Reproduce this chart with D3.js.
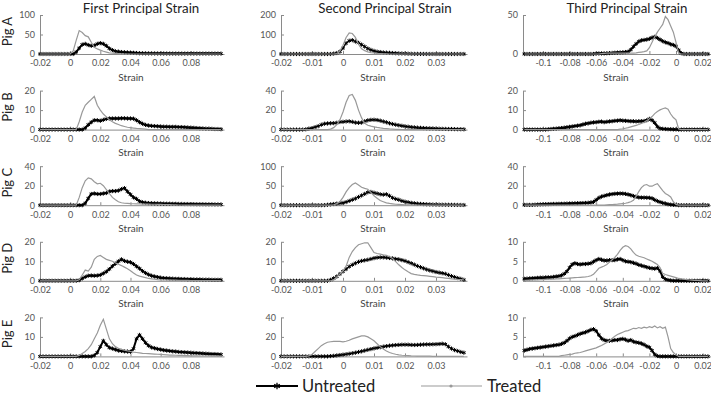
<!DOCTYPE html>
<html><head><meta charset="utf-8">
<script src="https://cdn.jsdelivr.net/npm/d3@7"></script>
<style>
body{margin:0;background:#fff}
svg{display:block;font-family:Lato,"Open Sans",sans-serif}
</style>
</head><body>
<svg id="chart" width="711" height="402"></svg>
<script>
// ---------- labels ----------
const columnTitles = ["First Principal Strain", "Second Principal Strain", "Third Principal Strain"];
const rowLabels = ["Pig A", "Pig B", "Pig C", "Pig D", "Pig E"];
const xAxisLabel = "Strain";
const seriesNames = ["Untreated", "Treated"];

// ---------- strain bins (x values) ----------
const strainCol1 = [-0.02,-0.018,-0.016,-0.014,-0.012,-0.01,-0.008,-0.006,-0.004,-0.002,0,0.002,0.004,0.006,0.008,0.01,0.012,0.014,0.016,0.018,0.02,0.022,0.024,0.026,0.028,0.03,0.032,0.034,0.036,0.038,0.04,0.042,0.044,0.046,0.048,0.05,0.052,0.054,0.056,0.058,0.06,0.062,0.064,0.066,0.068,0.07,0.072,0.074,0.076,0.078,0.08,0.082,0.084,0.086,0.088,0.09,0.092,0.094,0.096,0.098,0.1];
const strainCol2 = [-0.02,-0.019,-0.018,-0.017,-0.016,-0.015,-0.014,-0.013,-0.012,-0.011,-0.01,-0.009,-0.008,-0.007,-0.006,-0.005,-0.004,-0.003,-0.002,-0.001,0,0.001,0.002,0.003,0.004,0.005,0.006,0.007,0.008,0.009,0.01,0.011,0.012,0.013,0.014,0.015,0.016,0.017,0.018,0.019,0.02,0.021,0.022,0.023,0.024,0.025,0.026,0.027,0.028,0.029,0.03,0.031,0.032,0.033,0.034,0.035,0.036,0.037,0.038,0.039];
const strainCol3 = [-0.114,-0.112,-0.11,-0.108,-0.106,-0.104,-0.102,-0.1,-0.098,-0.096,-0.094,-0.092,-0.09,-0.088,-0.086,-0.084,-0.082,-0.08,-0.078,-0.076,-0.074,-0.072,-0.07,-0.068,-0.066,-0.064,-0.062,-0.06,-0.058,-0.056,-0.054,-0.052,-0.05,-0.048,-0.046,-0.044,-0.042,-0.04,-0.038,-0.036,-0.034,-0.032,-0.03,-0.028,-0.026,-0.024,-0.022,-0.02,-0.018,-0.016,-0.014,-0.012,-0.01,-0.008,-0.006,-0.004,-0.002,0,0.002,0.004,0.006,0.008,0.01,0.012,0.014,0.016,0.018,0.02,0.022,0.024];

// ---------- tick labels ----------
const xTicksCol1 = [-0.02, 0, 0.02, 0.04, 0.06, 0.08];
const xTicksCol2 = [-0.02, -0.01, 0, 0.01, 0.02, 0.03];
const xTicksCol3 = [-0.1, -0.08, -0.06, -0.04, -0.02, 0, 0.02];
const yTicksA = [[0,50,100],[0,100,200],[0,50]];
const yTicksB = [[0,10,20],[0,20,40],[0,10,20]];
const yTicksC = [[0,20,40],[0,50,100],[0,20,40]];
const yTicksD = [[0,10,20],[0,10,20],[0,5,10]];
const yTicksE = [[0,10,20],[0,20,40],[0,5,10]];

// ---------- series values (frequency) ----------
// First principal strain
const untreatedA1 = [0,0,0,0,0,0,0,0,0,0,0,0,5,15,24,26,23,21,22,26,28,26,21,14,10,7,6,5,4.5,4,3.5,3,2.5,2,1.8,1.6,1.5,1.5,1.4,1.3,1.2,1.2,1.1,1.1,1,1,1,1,1,1,1,1,1,1,1,1,1,1,1,1,1];
const treatedA1   = [0,0,0,0,0,0,0,0,0,0,0,8,35,60,55,47,44,30,17,13,10,7,5,3,2,1.5,1,0.5,0,0,0,0,0,0,0,0,0,0,0,0,0,0,0,0,0,0,0,0,0,0,0,0,0,0,0,0,0,0,0,0,0];
const untreatedB1 = [0,0,0,0,0,0,0,0,0,0,0,0,0,0,0,0.8,2.5,3.8,4.8,4.8,4.5,5,5.5,5.7,5.7,5.7,5.7,5.8,5.8,5.7,5.7,5.6,4.8,3.8,3,2.4,2.1,1.9,1.8,1.7,1.6,1.5,1.5,1.4,1.4,1.4,1.3,1.3,1.2,1.1,1,0.9,0.8,0.7,0.6,0.5,0.5,0.4,0.3,0.3,0.2];
const treatedB1   = [0,0,0,0,0,0,0,0,0,0,0,0,0,4,9,12.5,14,15.5,17,12.5,10,8,6.5,5,4,3.2,2.6,2,1.6,1.2,1,0.8,0.6,0.5,0.4,0.2,0,0,0,0,0,0,0,0,0,0,0,0,0,0,0,0,0,0,0,0,0,0,0,0,0];
const untreatedC1 = [0,0,0,0,0,0,0,0,0,0,0,0,0,0,0,2,7,11.5,12,11.5,11.5,12,12.5,14,14.5,14.5,15,16.5,17.5,14,11,8,6.5,4,3,2.5,2.2,2,1.9,1.8,1.7,1.6,1.5,1.5,1.4,1.4,1.3,1.3,1.2,1.2,1.1,1.1,1,1,1,0.9,0.9,0.9,0.8,0.8,0.8];
const treatedC1   = [0,0,0,0,0,0,0,0,0,0,0,0,0,8,18,25,28,27,24,22,22.5,20,16,12,8,5.5,3.5,2.5,2,1.8,1.6,1.5,1.4,1.3,1.2,1.2,1.1,1,1,0.9,0.8,0.7,0.6,0.5,0.4,0.3,0.2,0.2,0.1,0.1,0.1,0,0,0,0,0,0,0,0,0,0];
const untreatedD1 = [0,0,0,0,0,0,0,0,0,0,0,0,0,0.3,1.2,2,2.6,2.7,2.6,2.7,3,3.8,4.7,6,7.5,8.8,10,11,10.2,9.8,9.5,8.6,7.4,6.3,5,4,3.2,2.6,2.2,1.9,1.6,1.4,1.3,1.2,1.1,1,1,0.9,0.9,0.8,0.8,0.7,0.7,0.7,0.6,0.6,0.6,0.5,0.5,0.5,0.5];
const treatedD1   = [0,0,0,0,0,0,0,0,0,0,0,0,0,0.5,3,5.5,5,7,11,12.5,13,12,11,10.5,10,9.2,8.5,7.8,7,6.2,5.2,4,3,2.4,2,1.6,1.2,1,0.8,0.6,0.5,0.4,0.4,0.3,0.3,0.3,0.2,0.2,0.2,0.2,0.1,0.1,0.1,0.1,0.1,0.1,0.1,0.1,0.1,0.1,0.1];
const untreatedE1 = [0,0,0,0,0,0,0,0,0,0,0,0,0,0,0,0,0,0,0.5,2,5,8,6,4.5,4,3.5,3,2.8,2.6,2.5,2.4,4,9,11,9,7,5.5,4.6,4.2,3.8,3.5,3.2,3,2.8,2.6,2.5,2.3,2.2,2.1,2,1.9,1.8,1.7,1.6,1.5,1.4,1.3,1.2,1.2,1.1,1];
const treatedE1   = [0,0,0,0,0,0,0,0,0,0,0,0,0,0.5,1.5,2.5,4,6,9,12,16,19,14,9,6.5,5,4.2,3.6,3.2,2.8,2.5,2.2,2,1.8,1.6,1.5,1.4,1.3,1.2,1.1,1,0.9,0.8,0.7,0.7,0.6,0.5,0.5,0.4,0.4,0.3,0.3,0.3,0.2,0.2,0.2,0.2,0.1,0.1,0.1,0.1];

// Second principal strain
const untreatedA2 = [0,0,0,0,0,0,0,0,0,0,0,0,0,0,0,0,0,2,5,12,30,55,68,71,64,57,48,38,28,21,16,12,10,8,7,6,5,4,3,2.5,2,1.5,1,0.5,0.5,0.3,0.3,0.2,0.2,0.1,0,0,0,0,0,0,0,0,0,0];
const treatedA2   = [0,0,0,0,0,0,0,0,0,0,0,0,0,0,0,0,0,0,2,15,45,85,108,105,85,50,27,17,11,7,5,3,2,1,0.5,0,0,0,0,0,0,0,0,0,0,0,0,0,0,0,0,0,0,0,0,0,0,0,0,0];
const untreatedB2 = [0,0,0,0,0,0,0,0,0.3,1,1.5,2.5,3.5,5,6,6.3,6.5,6.6,7,7.8,8,8.3,8.5,8,7.2,7,7.2,8.5,9.5,10,10.1,9.8,9.2,8.3,7.5,6.5,5.7,5,4.4,3.9,3.4,3,2.6,2.3,2,1.8,1.6,1.4,1.3,1.2,1,0.9,0.8,0.7,0.6,0.6,0.5,0.4,0.4,0.3];
const treatedB2   = [0,0,0,0,0,0,0,0,0,0,0,0,0,0,0,0,0.5,2,5,10,18,28,35,36,30,20,12,6.5,4.5,3.5,2.8,2.2,1.7,1.3,1,0.7,0.5,0.3,0.2,0.1,0,0,0,0,0,0,0,0,0,0,0,0,0,0,0,0,0,0,0,0];
const untreatedC2 = [0,0,0,0,0,0,0,0,0,0,0,0,0,0,0.3,1,2,3,4,5,6,8,11,14,17,21,25,29,33,34,32,30,28,27,28,24,19,16,14,11,9,7.5,6,5,4,3.3,2.8,2.3,2,1.7,1.5,1.3,1.2,1.1,1,0.9,0.8,0.7,0.6,0.5];
const treatedC2   = [0,0,0,0,0,0,0,0,0,0,0,0,0,0,0,0,0,1,4,9,20,34,45,53,57,52,46,43,41,33,24,18,12,9,6,4.5,3.5,2.5,2,1.5,1,0.8,0.5,0.4,0.3,0.3,0.2,0.2,0.1,0.1,0,0,0,0,0,0,0,0,0,0];
const untreatedD2 = [0,0,0,0,0,0,0,0,0,0,0,0,0,0,0,0,0.5,1.3,2.2,3.5,4.8,6,7.3,8.2,9,9.7,10.2,10.5,10.8,11.2,11.6,11.9,12,12,11.9,11.7,11.5,11.2,11,10.6,10.2,9.6,9,8.3,7.6,7,6.4,5.8,5.3,4.9,4.5,4.2,3.9,3.6,3,2.4,1.9,1.4,1,0.5];
const treatedD2   = [0,0,0,0,0,0,0,0,0,0,0,0,0,0,0,0,0,0.5,2,3.5,5,7.5,12,15,17,18.5,19,19.5,19.5,17,14.5,14,13.7,13.3,13,12.3,11.4,9.8,8.2,6.8,5.6,4.6,3.7,3.3,3,2.8,2.7,2.5,2.3,2.1,1.9,1.8,1.6,1.4,1.2,1,0.9,0.7,0.6,0.5];
const untreatedE2 = [0,0,0,0,0,0,0,0,0,0,0,0,0,0,0,0,0.3,0.6,1,1.4,1.8,2.2,2.7,3.2,3.8,4.5,5.2,6,6.8,7.5,8.2,8.8,9.4,10,10.5,11,11.3,11.6,11.8,12,12,12,11.8,11.7,11.8,12,12.2,12.3,12.3,12.4,12.5,12.7,13,12.5,10,8,6.5,5.5,4.5,3.8];
const treatedE2   = [0,0,0,0,0,0,0,0,0,0.5,2,5,8,11,13,14.5,15,15.5,15.5,15.5,15,15.5,16.5,18,19,20,21,21,20,18,16,13,10,7.5,5.5,4,3,2.2,1.6,1.2,0.9,0.7,0.5,0.4,0.3,0.3,0.2,0.2,0.2,0.1,0.1,0,0,0,0,0,0,0,0,0];

// Third principal strain
const untreatedA3 = [0,0,0,0,0,0,0,0,0,0,0,0,0,0,0,0,0,0,0,0,0,0,0,0,0,0,0,0.5,0.6,0.7,0.8,1,1.2,1.4,1.6,1.8,2,2.2,2.5,3,5.5,9.5,13,16,17.5,18,18.5,19.5,21,22,20.5,18.5,16.5,15,14,12.5,11.5,10,5,1,0,0,0,0,0,0,0,0,0,0];
const treatedA3   = [0,0,0,0,0,0,0,0,0,0,0,0,0,0,0,0,0,0,0,0,0,0,0,0,0,0,0,0,0,0.5,0.8,1,1,1,1,1,1,1,1,1,1,1.2,1.5,2,2.5,3,4,8,15,22,28,33,38,48,44,36,28,15,1,0,0,0,0,0,0,0,0,0,0,0];
const untreatedB3 = [0,0,0,0,0,0,0,0,0,0.2,0.3,0.4,0.5,0.7,0.8,1,1.2,1.4,1.6,1.8,2,2.2,2.6,3,3.2,3.5,3.7,3.8,4,4.1,3.8,4,4.2,4.3,4.5,4.6,4.8,4.6,4.5,4.4,4.3,4.3,4.2,4.3,4.3,4.4,4.8,5.5,4.8,3.5,1.5,0.6,0.4,0.3,0.2,0.2,0.1,0.1,0,0,0,0,0,0,0,0,0,0,0,0];
const treatedB3   = [0,0,0,0,0,0,0,0,0,0,0,0,0,0,0,0,0,0,0,0,0,0,0,0,0,0,0,0,0,0,0,0,0,0,0,0,0.2,0.4,0.7,1,1.4,1.8,2.2,2.6,3.2,3.8,4.6,5.6,6.7,8.2,9.3,10.1,10.7,11.1,10.5,8,6.2,5,0.3,0,0,0,0,0,0,0,0,0,0,0];
const untreatedC3 = [0.3,0.3,0.3,0.3,0.5,0.6,0.8,0.9,1,1.1,1.2,1.3,1.3,1.4,1.4,1.5,1.6,1.7,1.8,1.9,2,2.1,2.2,2.3,2.5,2.8,3.4,5.5,7.5,8.8,9.6,10.3,11,11.4,11.7,11.9,12,11.9,11.6,11,10.3,9.4,8.6,8,7.8,7.8,7.7,7.6,7,5.5,4.2,3.2,2.4,1.7,1,0.6,0.3,0.2,0,0,0,0,0,0,0,0,0,0,0,0];
const treatedC3   = [0,0,0,0,0,0,0,0,0,0,0,0,0,0,0,0,0,0,0,0,0,0,0,0,0,0,0,0,0,0,0,0.3,0.5,0.7,0.9,1.1,1.4,1.7,2,2.6,3.5,5,9,14,18,20.5,21.2,19.5,19.5,21,22,18.5,15,12,10.5,8.5,3.5,0.8,0,0,0,0,0,0,0,0,0,0,0,0];
const untreatedD3 = [0.5,0.55,0.6,0.65,0.7,0.75,0.8,0.8,0.85,0.9,0.9,1,1.1,1.2,1.4,1.8,2.4,3.4,4.2,4.5,4.3,4.2,4.3,4.3,4.4,4.5,4.9,5.3,5.6,5.4,5.2,5.2,5.3,5.3,5.3,5.5,5.6,5.3,5,4.9,4.8,4.6,4.4,4.1,3.9,3.7,3.5,3.3,3.2,3.1,3.3,2.5,1,0.4,0.2,0.1,0,0,0,0,0,0,0,0,0,0,0,0,0,0];
const treatedD3   = [0.1,0.1,0.15,0.2,0.2,0.25,0.3,0.3,0.35,0.4,0.4,0.45,0.5,0.5,0.55,0.6,0.65,0.7,0.75,0.8,0.85,0.9,0.95,1,1.1,1.3,1.7,2.4,3.2,3.5,3.8,4.2,4.8,5.4,6,6.8,7.8,8.6,9,8.8,8.2,7.3,6.6,6.3,6.1,5.9,5.6,5.3,5,4.6,4.2,3.4,1.9,1.6,1.4,1.2,1,0.8,0.6,0.5,0.4,0.3,0.2,0.15,0.1,0.1,0.05,0,0,0];
const untreatedE3 = [1.5,1.7,1.9,2,2.1,2.2,2.3,2.4,2.5,2.6,2.7,2.8,2.9,3,3.2,3.5,4,4.6,5,5.2,5.5,5.8,6,6.2,6.5,6.8,7,6.5,5.5,4.6,4.2,4,4,4.1,4.2,4.2,4.4,4.5,4.3,4,4.2,3.8,3.6,3.5,3.3,3,2.6,2.3,1.5,0.5,0.1,0,0,0,0,0,0,0,0,0,0,0,0,0,0,0,0,0,0,0];
const treatedE3   = [0,0,0,0,0,0,0,0,0,0,0,0,0,0,0.2,0.3,0.4,0.5,0.6,0.8,0.9,1,1.2,1.4,1.6,1.8,2,2.2,2.5,2.8,3.2,3.6,4,4.6,5.2,5.6,5.9,6.2,6.5,6.6,6.9,7.2,7.1,7.4,7.2,7.5,7.3,7.6,7.4,7.8,7.3,7.6,7.2,7.5,5,2,1,0.4,0,0,0,0,0,0,0,0,0,0,0,0];

// ---------- assembly ----------
const strainCols = [strainCol1, strainCol2, strainCol3];
const xTickCols = [xTicksCol1, xTicksCol2, xTicksCol3];
const xDomains = [[-0.02, 0.102], [-0.02, 0.04], [-0.115, 0.0263]];
const yTickRows = [yTicksA, yTicksB, yTicksC, yTicksD, yTicksE];
const untreatedRows = [
  [untreatedA1, untreatedA2, untreatedA3],
  [untreatedB1, untreatedB2, untreatedB3],
  [untreatedC1, untreatedC2, untreatedC3],
  [untreatedD1, untreatedD2, untreatedD3],
  [untreatedE1, untreatedE2, untreatedE3]
];
const treatedRows = [
  [treatedA1, treatedA2, treatedA3],
  [treatedB1, treatedB2, treatedB3],
  [treatedC1, treatedC2, treatedC3],
  [treatedD1, treatedD2, treatedD3],
  [treatedE1, treatedE2, treatedE3]
];

// ---------- layout ----------
const colRanges = [[40, 224], [281, 467], [523, 711]];
const titleX = [141, 385, 627];
const rowTop0 = 15, rowStep = 75.6, plotH = 39;
const axisColor = "#8a8a8a", labelColor = "#555", treatedColor = "#999";

const svg = d3.select("#chart");
const asterisk = d3.symbol(d3.symbolAsterisk, 12);

columnTitles.forEach((t, c) => {
  svg.append("text").attr("x", titleX[c]).attr("y", 12.5)
    .attr("text-anchor", "middle").attr("font-size", 13.3).attr("fill", "#222").text(t);
});

rowLabels.forEach((label, r) => {
  const top = rowTop0 + r * rowStep;
  for (let c = 0; c < 3; c++) {
    const xs = strainCols[c];
    const yt = yTickRows[r][c];
    const x = d3.scaleLinear().domain(xDomains[c]).range(colRanges[c]);
    const y = d3.scaleLinear().domain([0, yt[yt.length - 1]]).range([top + plotH, top]);
    const g = svg.append("g");

    // x axis
    const xa = g.append("g").attr("transform", `translate(0,${top + plotH})`)
      .call(d3.axisBottom(x).tickValues(xTickCols[c]).tickFormat(d => String(d))
        .tickSizeInner(-3).tickSizeOuter(0).tickPadding(6));
    xa.select(".domain").attr("stroke", axisColor);
    xa.selectAll(".tick line").attr("stroke", axisColor);
    xa.selectAll("text").attr("font-size", 9).attr("fill", labelColor).attr("font-family", "Lato,'Open Sans',sans-serif");

    // y axis
    const ya = g.append("g").attr("transform", `translate(${colRanges[c][0]},0)`)
      .call(d3.axisLeft(y).tickValues(yt).tickFormat(d => String(d))
        .tickSizeInner(-3).tickSizeOuter(0).tickPadding(5));
    ya.select(".domain").attr("stroke", axisColor);
    ya.selectAll(".tick line").attr("stroke", axisColor);
    ya.selectAll("text").attr("font-size", 9).attr("fill", labelColor).attr("font-family", "Lato,'Open Sans',sans-serif");

    // x label (the legend covers it on the bottom row)
    if (r < rowLabels.length - 1) {
      g.append("text").attr("x", (colRanges[c][0] + colRanges[c][1]) / 2 - 1)
        .attr("y", top + plotH + 26.5).attr("text-anchor", "middle")
        .attr("font-size", 10).attr("fill", "#444").text(xAxisLabel);
    }

    const un = untreatedRows[r][c], tr = treatedRows[r][c];
    const n = Math.min(xs.length, un.length, tr.length);
    const ptsU = d3.range(n).map(i => [xs[i], un[i]]);
    const ptsT = d3.range(n).map(i => [xs[i], tr[i]]);
    const line = d3.line().x(d => x(d[0])).y(d => y(d[1]));

    g.append("path").attr("d", line(ptsU)).attr("fill", "none")
      .attr("stroke", "#000").attr("stroke-width", c === 1 ? 1.2 : 2);
    g.selectAll(".mk").data(ptsU).enter().append("path")
      .attr("d", asterisk).attr("transform", d => `translate(${x(d[0])},${y(d[1])})`)
      .attr("fill", "none").attr("stroke", "#000").attr("stroke-width", 1);
    g.append("path").attr("d", line(ptsT)).attr("fill", "none")
      .attr("stroke", treatedColor).attr("stroke-width", 1.2);
  }
  svg.append("text")
    .attr("transform", `translate(12,${top + plotH / 2 - 3}) rotate(-90)`)
    .attr("text-anchor", "middle").attr("font-size", 13).attr("fill", "#222").text(label);
});

// ---------- legend ----------
const lg = svg.append("g");
const ly = 386;
lg.append("line").attr("x1", 256).attr("x2", 298).attr("y1", ly).attr("y2", ly)
  .attr("stroke", "#000").attr("stroke-width", 2);
lg.append("path").attr("d", d3.symbol(d3.symbolAsterisk, 30)())
  .attr("transform", `translate(277,${ly})`).attr("fill", "none").attr("stroke", "#000").attr("stroke-width", 1.3);
lg.append("text").attr("x", 302).attr("y", ly + 5.5).attr("font-size", 16.5).attr("fill", "#222").text(seriesNames[0]);
lg.append("line").attr("x1", 421).attr("x2", 482).attr("y1", ly).attr("y2", ly)
  .attr("stroke", treatedColor).attr("stroke-width", 1.2);
lg.append("circle").attr("cx", 451).attr("cy", ly).attr("r", 1.6).attr("fill", treatedColor);
lg.append("text").attr("x", 487).attr("y", ly + 5.5).attr("font-size", 16.5).attr("fill", "#222").text(seriesNames[1]);
</script>
</body></html>
